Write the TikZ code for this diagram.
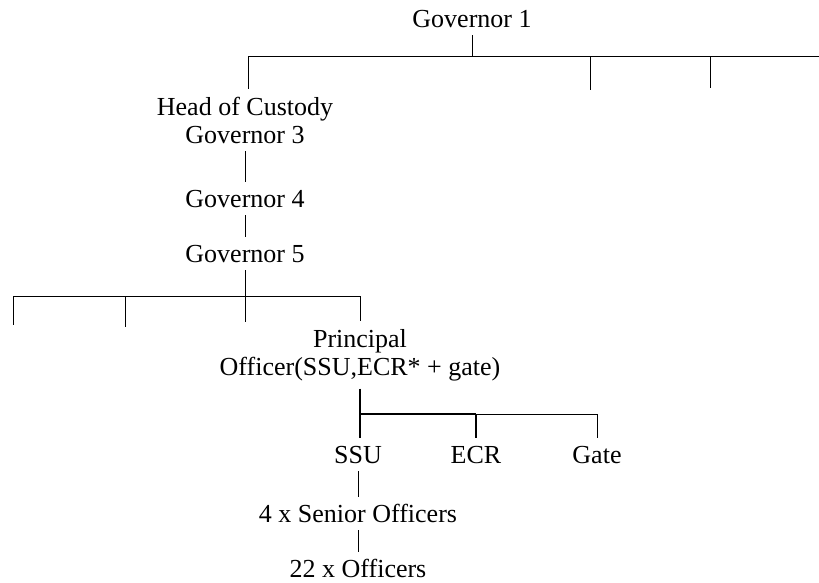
\documentclass[tikz,border=0pt]{standalone}
\usepackage{fontspec}
\setmainfont{Liberation Serif}
\usetikzlibrary{positioning}

\tikzset{
  post/.style={font=\fontsize{26}{28}\selectfont, inner sep=0pt, text height=17pt, text depth=0pt, outer ysep=8pt, anchor=base},
  posttwo/.style={font=\fontsize{26}{28}\selectfont, inner sep=0pt, align=center, outer ysep=8pt, anchor=base},
  link/.style={line width=0.9pt},
  heavylink/.style={line width=1.4pt}
}

\begin{document}
\begin{tikzpicture}[x=1pt,y=-1pt]
\useasboundingbox (0,0) rectangle (819,582);

\node[post] (gov1) at (472,27) {Governor 1};
\node[posttwo] (head) at (245,143) {Head of Custody\\Governor 3};
\node[post] (gov4) at (245,207) {Governor 4};
\node[post] (gov5) at (245,262) {Governor 5};
\node[posttwo] (principal) at (360,375) {Principal\\Officer(SSU,ECR* + gate)};
\node[post] (ssu) at (358,463) {SSU};
\node[post] (ecr) at (476,463) {ECR};
\node[post] (gate) at (597,463) {Gate};
\node[post] (senior) at (358,522) {4 x Senior Officers};
\node[post] (officers) at (358,577) {22 x Officers};

\coordinate (topleft) at (248,56);
\coordinate (topright) at (819,56);
\coordinate (topdrop1) at (590,90);
\coordinate (topdrop2) at (710,88);
\coordinate (midleft) at (13,296);
\coordinate (midright) at (360,296);
\coordinate (middrop1) at (13,325);
\coordinate (middrop2) at (125,327);
\coordinate (middrop3) at (245,322);
\coordinate (lowbus) at (597,414);

\draw[link] (topleft) -- (topright);
\draw[link] (gov1.south) -- (gov1.south |- topleft);
\draw[link] (topleft) -- (topleft |- head.north);
\draw[link] (topdrop1 |- topleft) -- (topdrop1);
\draw[link] (topdrop2 |- topleft) -- (topdrop2);

\draw[link] (head.south) -- (gov4.north);
\draw[link] (gov4.south) -- (gov5.north);

\draw[link] (midleft) -- (midright);
\draw[link] (gov5.south) -- (middrop3);
\draw[link] (middrop1 |- midleft) -- (middrop1);
\draw[link] (middrop2 |- midleft) -- (middrop2);
\draw[link] (midright) -- (principal.north);

\draw[heavylink] (principal.south) -- (principal.south |- ssu.north);
\draw[heavylink] (principal.south |- lowbus) -- (ecr.north |- lowbus);
\draw[link] (ecr.north |- lowbus) -- (lowbus);
\draw[heavylink] (ecr.north |- lowbus) -- (ecr.north);
\draw[link] (lowbus) -- (gate.north);

\draw[link] (ssu.south) -- (senior.north);
\draw[link] (senior.south) -- (officers.north);
\end{tikzpicture}
\end{document}
